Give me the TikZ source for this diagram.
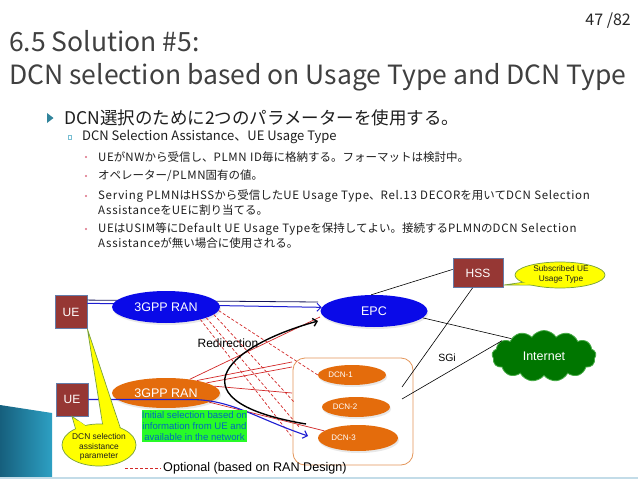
\documentclass[tikz,border=0pt]{standalone}
\usepackage{fontspec}
\setmainfont{Liberation Sans}
\newfontfamily\jpfont{Noto Sans CJK JP}
\newfontfamily\jplat[LetterSpace=6]{Noto Sans CJK JP}
\newcommand\latrun[1]{{\jplat #1}}
\usetikzlibrary{shapes.geometric,shapes.symbols,arrows.meta,shadows}
\definecolor{titlegray}{RGB}{64,64,64}
\definecolor{bodytext}{RGB}{30,30,30}
\definecolor{bulteal}{RGB}{49,132,155}
\definecolor{sqcol}{RGB}{120,190,210}
\definecolor{dotcol}{RGB}{220,110,130}
\definecolor{ranblue}{RGB}{10,10,232}
\definecolor{dcnorange}{RGB}{228,108,12}
\definecolor{boxred}{RGB}{150,55,52}
\definecolor{boxedge}{RGB}{100,125,170}
\definecolor{netgreen}{RGB}{0,118,0}
\definecolor{netedge}{RGB}{70,170,70}
\definecolor{callyellow}{RGB}{255,255,0}
\definecolor{calledge}{RGB}{120,160,60}
\definecolor{labelgreen}{RGB}{40,250,40}
\definecolor{labeltext}{RGB}{0,105,190}
\definecolor{redline}{RGB}{210,40,40}
\definecolor{boxorange}{RGB}{228,150,90}
\definecolor{arrowblue}{RGB}{30,30,210}
\definecolor{navyline}{RGB}{20,20,90}
\definecolor{cornerdark}{RGB}{22,95,125}
\definecolor{cornerlight}{RGB}{45,160,195}
\definecolor{footline}{RGB}{195,220,232}
\begin{document}
\begin{tikzpicture}[x=1pt,y=-1pt,
  ueb/.style={draw=boxedge, fill=boxred, text=white, minimum width=32pt, minimum height=33pt, inner sep=0pt, font=\fontsize{12}{12}\selectfont, line width=0.8pt},
  ranell/.style={ellipse, inner sep=0pt, text=white, font=\fontsize{12.5}{12.5}\selectfont, drop shadow={opacity=0.18, shadow xshift=1pt, shadow yshift=-2pt}},
  dcnell/.style={ellipse, fill=dcnorange, inner sep=0pt, drop shadow={opacity=0.18, shadow xshift=1pt, shadow yshift=-2pt}},
  dcntxt/.style={text=white, font=\fontsize{8}{8}\selectfont, inner sep=0pt},
  cl/.style={fill=callyellow, draw=calledge, line width=0.7pt},
  solidred/.style={draw=redline, line width=0.7pt},
  dashred/.style={draw=redline, line width=0.7pt, dash pattern=on 3pt off 2pt},
  barb/.style={-{Straight Barb[length=4pt,width=8pt]}},
  jpline/.style={anchor=west, inner sep=0pt, font=\jpfont\fontsize{11.5}{11.5}\selectfont, text=bodytext},
  blk/.style={draw=black, line width=0.6pt}
]
\useasboundingbox (0,0) rectangle (638,479);
\fill[white] (0,0) rectangle (638,479);

% slide decoration
\shade[left color=cornerdark, right color=cornerlight] (0,405) -- (52,413) -- (52,479) -- (0,479) -- cycle;
\fill[footline] (0,476.5) rectangle (638,479);

% header and title
\node[anchor=base east, inner sep=0pt, font=\jpfont\fontsize{16}{16}\selectfont, text=black!85] (pageno) at (631,25) {47 /82};
\node[anchor=base west, inner sep=0pt, font=\jpfont\fontsize{26.5}{26.5}\selectfont, text=titlegray] (title1) at (9,52) {6.5 Solution \#5:};
\node[anchor=base west, inner sep=0pt, font=\jpfont\fontsize{26.5}{26.5}\selectfont, text=titlegray] (title2) at (9,84) {DCN selection based on Usage Type and DCN Type};

% bullets
\fill[bulteal] (47,113) -- (47,123) -- (53.5,118) -- cycle;
\node[anchor=west, inner sep=0pt, font=\jpfont\fontsize{17.5}{17.5}\selectfont, text=bodytext] (b1) at (64,118) {DCN選択のために2つのパラメーターを使用する。};
\draw[sqcol, line width=0.6pt] (68,135.5) rectangle (71.5,139);
\node[anchor=west, inner sep=0pt, font=\jpfont\fontsize{13}{13}\selectfont, text=bodytext] (b2) at (82,137) {DCN Selection Assistance、UE Usage Type};
\foreach \yy in {157,176,196,229} {\fill[dotcol] (86,\yy) circle (1.1pt);}
\node[jpline] (s1) at (98,157) {\latrun{UE}が\latrun{NW}から受信し、\latrun{PLMN ID}毎に格納する。フォーマットは検討中。};
\node[jpline] (s2) at (98,176) {オペレーター\latrun{/PLMN}固有の値。};
\node[jpline] (s3a) at (98,196) {\latrun{Serving PLMN}は\latrun{HSS}から受信した\latrun{UE Usage Type}、\latrun{Rel.13 DECOR}を用いて\latrun{DCN Selection}};
\node[jpline] (s3b) at (98,210) {\latrun{Assistance}を\latrun{UE}に割り当てる。};
\node[jpline] (s4a) at (98,229) {\latrun{UE}は\latrun{USIM}等に\latrun{Default UE Usage Type}を保持してよい。接続する\latrun{PLMN}の\latrun{DCN Selection}};
\node[jpline] (s4b) at (98,243) {\latrun{Assistance}が無い場合に使用される。};

% diagram nodes
\node[ueb] (ue1) at (71,312) {UE};
\node[ueb] (ue2) at (72,399.5) {UE};
\node[ueb, minimum width=50pt, minimum height=29pt] (hss) at (478,273) {HSS};
\node[ranell, fill=ranblue, minimum width=107pt, minimum height=32pt] (epc) at (374,311) {EPC};

% UE -> EPC (behind RAN)
\coordinate (k0) at (318,302);
\draw[navyline, line width=0.8pt] (ue1.36) -- (k0);
\draw[barb, arrowblue, line width=1pt] (ue1.28) -- (epc.176);

\node[ranell, fill=ranblue, minimum width=108pt, minimum height=32pt] (bran) at (166,307) {3GPP RAN};
\node[ranell, fill=dcnorange, minimum width=108pt, minimum height=30pt] (oran) at (166,393) {3GPP RAN};

\node[draw=boxorange, rounded corners=12pt, minimum width=120pt, minimum height=107pt, line width=0.8pt] (dcnbox) at (353,411.5) {};
\node[dcnell, minimum width=68pt, minimum height=20pt] (dcn1) at (352,375) {};
\node[dcnell, minimum width=68pt, minimum height=20pt] (dcn2) at (356,407) {};
\node[dcnell, minimum width=80pt, minimum height=26pt] (dcn3) at (358,438) {};
\node[dcntxt] (dcn1t) at (340.5,375) {DCN-1};
\node[dcntxt] (dcn2t) at (345,407) {DCN-2};
\node[dcntxt] (dcn3t) at (343.5,438) {DCN-3};

\node[cloud, cloud puffs=13, cloud puff arc=115, aspect=2, fill=netgreen, draw=netedge, line width=0.8pt, minimum width=104pt, minimum height=51pt, inner sep=0pt, text=white, font=\fontsize{12.5}{12.5}\selectfont] (inet) at (544,356) {Internet};

% black connectors
\coordinate (sg1) at (402,387);
\coordinate (sg2) at (402,399);
\draw[blk] (hss.172) -- (epc.100);
\draw[blk] (epc.-8) -- (inet.152);
\draw[blk] (hss.-110) -- (sg1);
\draw[blk] (inet.160) -- (sg2);

% red connectors
\coordinate (r1) at (320,317);
\coordinate (r2) at (292,362);
\coordinate (r3) at (292,367);
\coordinate (r4) at (292,393);
\draw[solidred] (oran.30) -- (r1);
\draw[solidred] (oran.22) -- (r2);
\draw[solidred] (oran.14) -- (r3);
\draw[solidred] (oran.8) -- (r4);
\draw[solidred] (oran.-12) -- (dcn3.168);

\coordinate (d1) at (292,437);
\coordinate (d2) at (300,428);
\coordinate (d3) at (294,402);
\draw[dashred] (bran.-20) -- (d1);
\draw[dashred] (bran.-15) -- (d2);
\draw[dashred] (bran.-9) -- (d3);
\draw[dashred] (bran.-4) -- (dcn1.180);

% redirection arrow
\coordinate (k1) at (306,424);
\coordinate (k2) at (318,321);
\draw[-{Straight Barb[length=4pt,width=8pt]}, line width=1.4pt] (k1) .. controls (175,402) and (220,348) .. (k2);

% initial selection arrow
\coordinate (bend) at (190,399.5);
\coordinate (k3) at (308,436);
\draw[barb, arrowblue, line width=1.1pt] (ue2.east) -- (bend) .. controls (232,399.5) and (255,418) .. (k3);

% green label
\node[fill=labelgreen, text=labeltext, font=\fontsize{9.6}{10.6}\selectfont, align=center, inner sep=0pt, minimum width=105pt, minimum height=32pt] (initlbl) at (194.5,426) {Initial selection based on\\information from UE and\\available in the network};

% callout: DCN selection assistance parameter
\filldraw[cl] (ue1.south east) -- (104,433) -- (122,433) -- cycle;
\filldraw[cl] (ue2.south) -- (78,437) -- (93,431) -- cycle;
\node[ellipse, cl, minimum width=74pt, minimum height=42pt, inner sep=0pt] (dcnsel) at (99,445) {};
\fill[callyellow] (101.7,415) -- (104.6,433) -- (121.4,433) -- (115.4,415) -- cycle;
\fill[callyellow] (74.3,422) -- (78.2,435.8) -- (91.8,430.4) -- (78.6,420.8) -- cycle;
\node[align=center, inner sep=0pt, font=\fontsize{8.4}{9.6}\selectfont, text=bodytext] (dcnselt) at (99,447) {DCN selection\\assistance\\parameter};

% callout: subscribed UE usage type
\coordinate (subtip) at (504,285);
\filldraw[cl] (subtip) -- (525,282) -- (537,285) -- cycle;
\node[ellipse, cl, minimum width=90pt, minimum height=26pt, inner sep=0pt] (subs) at (560,275) {};
\fill[callyellow] (519.5,283.3) -- (524.6,282.5) -- (536.3,284.6) -- (519.5,284.6) -- cycle;
\node[align=center, inner sep=0pt, font=\fontsize{8.3}{9.5}\selectfont, text=bodytext] (subst) at (561,274.5) {Subscribed UE\\Usage Type};

% labels
\node[inner sep=0pt, font=\fontsize{12}{12}\selectfont] (redir) at (228,343) {Redirection};
\node[inner sep=0pt, font=\fontsize{10.5}{10.5}\selectfont] (sgi) at (447,358) {SGi};

% legend
\coordinate (lg1) at (125,468.5);
\coordinate (lg2) at (161,468.5);
\draw[dashred] (lg1) -- (lg2);
\node[anchor=west, inner sep=0pt, font=\fontsize{12.6}{12.6}\selectfont] (lgt) at (163,468) {Optional (based on RAN Design)};
\end{tikzpicture}
\end{document}
